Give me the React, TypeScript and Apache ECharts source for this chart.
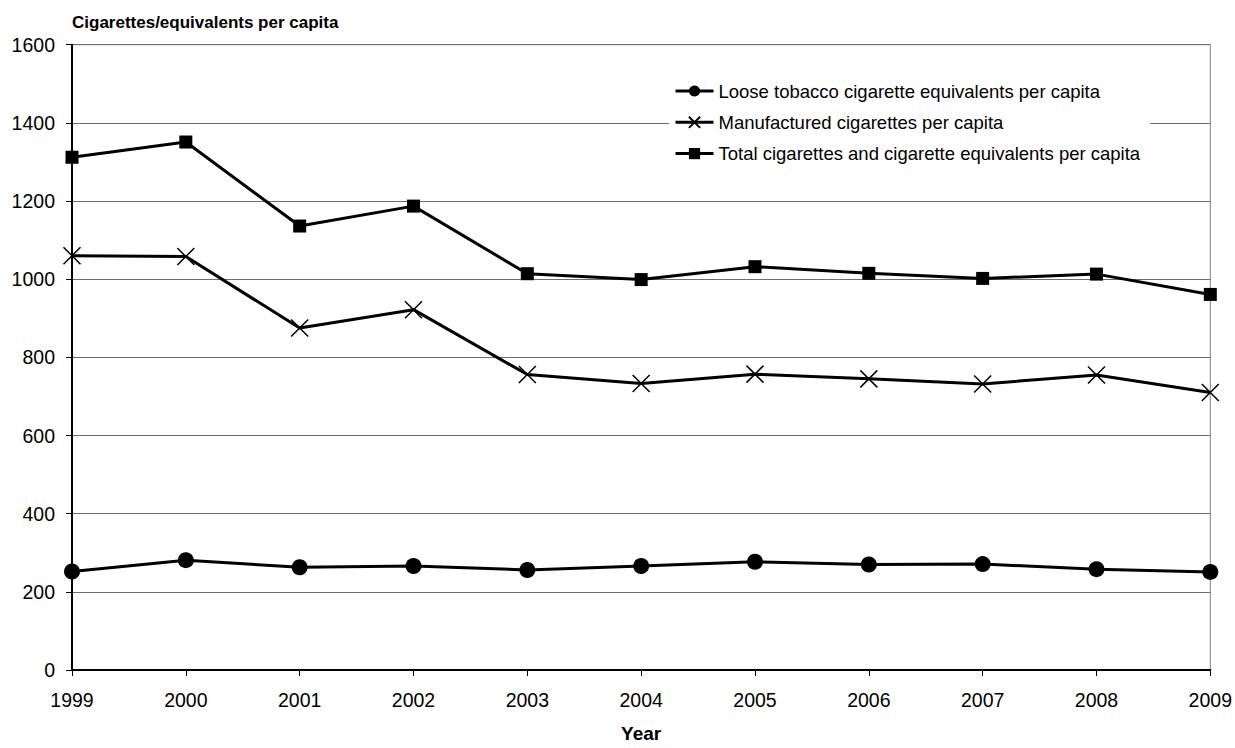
import React, { useEffect, useRef } from "react";
import * as echarts from "echarts";

const years = ["1999", "2000", "2001", "2002", "2003", "2004", "2005", "2006", "2007", "2008", "2009"];
const looseTobacco = [252, 281, 263, 266, 256, 266, 277, 270, 271, 258, 251];
const manufactured = [1060, 1058, 875, 922, 756, 733, 757, 745, 732, 755, 710];
const total = [1312, 1351, 1136, 1187, 1014, 999, 1032, 1015, 1002, 1013, 961];

const seriesNames = [
  "Loose tobacco cigarette equivalents per capita",
  "Manufactured cigarettes per capita",
  "Total cigarettes and cigarette equivalents per capita",
];

const FONT = "'Liberation Sans', Arial, sans-serif";
const X_PATH = "path://M0,0L10,10M10,0L0,10";

export default function App() {
  const ref = useRef<HTMLDivElement>(null);
  useEffect(() => {
    if (!ref.current) return;
    const chart = echarts.init(ref.current, null, { renderer: "svg" });
    chart.setOption({
      animation: false,
      backgroundColor: "#ffffff",
      title: {
        text: "Cigarettes/equivalents per capita",
        left: 72,
        top: 14,
        padding: 0,
        textStyle: { fontFamily: FONT, fontSize: 17, fontWeight: "bold", color: "#000" },
      },
      legend: {
        orient: "vertical",
        left: 669,
        top: 73,
        padding: [8, 10, 8, 5],
        backgroundColor: "#ffffff",
        itemWidth: 38,
        itemHeight: 14,
        itemGap: 11.3,
        lineStyle: { width: 3 },
        textStyle: { fontFamily: FONT, fontSize: 18.5, color: "#000", lineHeight: 20 },
        data: seriesNames,
      },
      grid: {
        left: 72,
        right: 24.3,
        top: 44.7,
        bottom: 70.3,
        show: true,
        borderColor: "#808080",
        borderWidth: 1,
        backgroundColor: "transparent",
      },
      xAxis: {
        type: "category",
        data: years,
        boundaryGap: false,
        name: "Year",
        nameLocation: "middle",
        nameGap: 54,
        nameTextStyle: { fontFamily: FONT, fontSize: 19, fontWeight: "bold", color: "#000" },
        axisLine: { lineStyle: { color: "#000", width: 2 } },
        axisTick: { show: true, length: 6, lineStyle: { color: "#000" } },
        axisLabel: { fontFamily: FONT, fontSize: 19.5, color: "#000", margin: 20 },
        splitLine: { show: false },
      },
      yAxis: {
        type: "value",
        min: 0,
        max: 1600,
        interval: 200,
        axisLine: { show: true, lineStyle: { color: "#000", width: 2 } },
        axisTick: { show: true, length: 6, lineStyle: { color: "#000" } },
        axisLabel: {
          fontFamily: FONT,
          fontSize: 19.5,
          color: "#000",
          margin: 17,
          formatter: (v: number) => String(v),
        },
        splitLine: { show: true, lineStyle: { color: "#6e6e6e", width: 1 } },
      },
      series: [
        {
          name: seriesNames[0],
          type: "line",
          data: looseTobacco,
          symbol: "circle",
          symbolSize: 16,
          itemStyle: { color: "#000" },
          lineStyle: { color: "#000", width: 3 },
          z: 3,
        },
        {
          name: seriesNames[1],
          type: "line",
          data: manufactured,
          symbol: X_PATH,
          symbolSize: 17,
          itemStyle: { color: "none", borderColor: "#000", borderWidth: 1.5 },
          lineStyle: { color: "#000", width: 3 },
          z: 3,
        },
        {
          name: seriesNames[2],
          type: "line",
          data: total,
          symbol: "rect",
          symbolSize: 13,
          itemStyle: { color: "#000" },
          lineStyle: { color: "#000", width: 3 },
          z: 3,
        },
      ],
    });
    return () => chart.dispose();
  }, []);
  return (
    <div
      ref={ref}
      style={{ position: "fixed", left: 0, top: 0, width: 1235, height: 748 }}
    />
  );
}
